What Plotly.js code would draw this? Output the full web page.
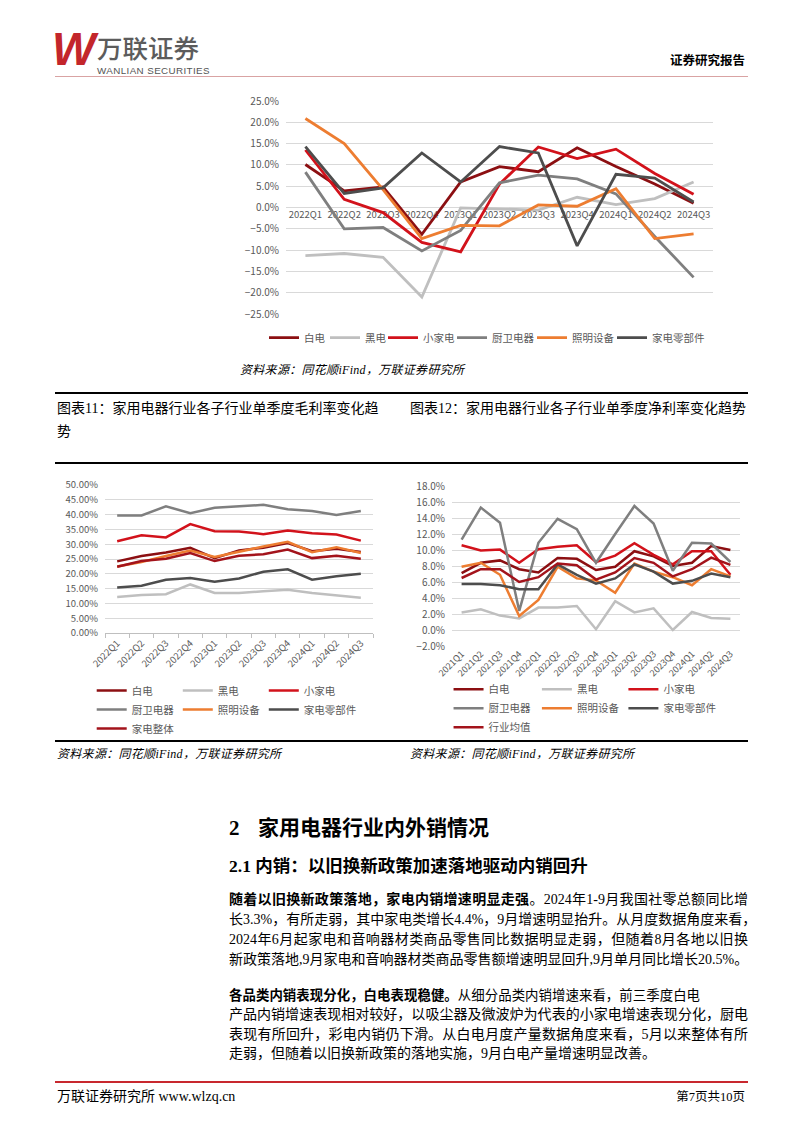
<!DOCTYPE html>
<html><head><meta charset="utf-8">
<script src="https://cdn.plot.ly/plotly-3.0.1.min.js"></script>
<style>
html,body{margin:0;padding:0;}
body{width:802px;height:1133px;position:relative;background:#fff;overflow:hidden;font-family:"Liberation Serif","Noto Sans CJK SC",serif;color:#000;}
.a{position:absolute;}
.rule{position:absolute;left:55px;width:693px;background:#000;}
.src{position:absolute;font-size:12px;font-style:italic;color:#000;font-family:"Liberation Serif","Noto Sans CJK SC",serif;white-space:nowrap;letter-spacing:0.3px;}
.ttl{position:absolute;font-size:14px;line-height:23px;font-family:"Liberation Serif","Noto Sans CJK SC",serif;white-space:nowrap;}
.bl{position:absolute;left:229px;width:519px;font-size:14px;line-height:19px;white-space:nowrap;text-align:justify;text-align-last:justify;}
.bl b{font-weight:700;}
</style></head><body>

<!-- header -->
<div class="a" style="left:52px;top:24px;font-family:'Liberation Sans';font-weight:700;font-style:italic;font-size:46px;line-height:50px;color:#C3262B;letter-spacing:-3px;">W</div>
<div class="a" style="left:97px;top:34px;font-family:'Noto Sans CJK SC';font-weight:500;font-size:25.5px;line-height:25px;color:#5c5c5c;">万联证券</div>
<div class="a" style="left:97px;top:66px;font-family:'Liberation Sans';font-size:9.8px;line-height:9px;color:#555;letter-spacing:0.4px;">WANLIAN SECURITIES</div>
<div class="a" style="right:57px;top:51px;font-family:'Noto Sans CJK SC';font-weight:700;font-size:12.5px;line-height:18px;">证券研究报告</div>
<div class="a" style="left:55px;top:76px;width:693px;height:1px;background:#d9a3a3;"></div>

<!-- chart 1 -->
<div id="c1" class="a" style="left:220px;top:85px;width:510px;height:275px;"></div>
<div class="src" style="left:240px;top:360px;">资料来源：同花顺iFind，万联证券研究所</div>

<!-- titles -->
<div class="rule" style="top:392px;height:2px;"></div>
<div class="ttl" style="left:57px;top:397px;">图表11：家用电器行业各子行业单季度毛利率变化趋<br>势</div>
<div class="ttl" style="left:410px;top:397px;">图表12：家用电器行业各子行业单季度净利率变化趋势</div>
<div class="rule" style="top:462px;height:2px;"></div>

<!-- charts 2 and 3 -->
<div id="c2" class="a" style="left:45px;top:470px;width:335px;height:268px;"></div>
<div id="c3" class="a" style="left:400px;top:470px;width:350px;height:268px;"></div>
<div class="rule" style="top:740px;height:2px;"></div>
<div class="src" style="left:57px;top:744px;">资料来源：同花顺iFind，万联证券研究所</div>
<div class="src" style="left:410px;top:744px;">资料来源：同花顺iFind，万联证券研究所</div>

<!-- body text -->
<div class="a" style="left:229px;top:815px;font-size:21px;line-height:26px;font-weight:700;">2</div>
<div class="a" style="left:258px;top:815px;font-size:21px;line-height:26px;font-weight:700;">家用电器行业内外销情况</div>
<div class="a" style="left:229px;top:854px;font-size:17.5px;line-height:24px;font-weight:700;">2.1 内销：以旧换新政策加速落地驱动内销回升</div>

<div class="bl" style="top:889.5px;"><b>随着以旧换新政策落地，家电内销增速明显走强</b>。2024年1-9月我国社零总额同比增</div>
<div class="bl" style="top:909.5px;">长3.3%，有所走弱，其中家电类增长4.4%，9月增速明显抬升。从月度数据角度来看，</div>
<div class="bl" style="top:929.5px;">2024年6月起家电和音响器材类商品零售同比数据明显走弱，但随着8月各地以旧换</div>
<div class="bl" style="top:949.5px;">新政策落地,9月家电和音响器材类商品零售额增速明显回升,9月单月同比增长20.5%。</div>

<div class="bl" style="top:985.5px;width:471px;font-size:13.4px;"><b>各品类内销表现分化，白电表现稳健。</b>从细分品类内销增速来看，前三季度白电</div>
<div class="bl" style="top:1005px;">产品内销增速表现相对较好，以吸尘器及微波炉为代表的小家电增速表现分化，厨电</div>
<div class="bl" style="top:1024.5px;">表现有所回升，彩电内销仍下滑。从白电月度产量数据角度来看，5月以来整体有所</div>
<div class="bl" style="top:1044px;text-align:left;text-align-last:left;">走弱，但随着以旧换新政策的落地实施，9月白电产量增速明显改善。</div>

<!-- footer -->
<div class="a" style="left:55px;top:1081px;width:693px;height:2px;background:#c8282e;"></div>
<div class="a" style="left:57px;top:1087px;font-size:14px;line-height:20px;">万联证券研究所 www.wlzq.cn</div>
<div class="a" style="right:57px;top:1088px;font-size:12.5px;line-height:18px;">第7页共10页</div>

<script>
// ---------- data: chart 1 (single quarter YoY) ----------
const topQuarters = ['2022Q1','2022Q2','2022Q3','2022Q4','2023Q1','2023Q2','2023Q3','2023Q4','2024Q1','2024Q2','2024Q3'];
const topBaidian     = [10.1, 3.9, 4.8, -6.3, 6.0, 9.6, 8.4, 14.0, 9.6, 5.5, 1.0];
const topHeidian     = [-11.3, -10.8, -11.7, -21.0, -0.1, -0.3, -0.6, 2.4, 0.7, 2.1, 6.0];
const topXiaojiadian = [13.5, 1.9, -1.2, -8.2, -10.4, 5.5, 14.2, 11.5, 13.7, 8.0, 3.1];
const topChuwei      = [8.3, -5.0, -4.7, -10.2, -5.4, 5.8, 7.6, 6.7, 3.2, -6.8, -16.4];
const topZhaoming    = [20.9, 15.0, 4.2, -7.3, -4.2, -4.3, 0.6, 0.3, 4.4, -7.3, -6.2];
const topLingbujian  = [14.3, 3.3, 4.6, 12.8, 6.0, 14.3, 12.8, -9.0, 7.8, 6.9, 1.3];

// ---------- data: chart 2 (gross margin) ----------
const gmQuarters = ['2022Q1','2022Q2','2022Q3','2022Q4','2023Q1','2023Q2','2023Q3','2023Q4','2024Q1','2024Q2','2024Q3'];
const gmBaidian     = [24.2, 26.0, 27.2, 28.8, 25.3, 27.9, 28.8, 30.4, 27.6, 28.5, 27.4];
const gmHeidian     = [12.2, 12.8, 13.1, 16.4, 13.5, 13.5, 14.1, 14.6, 13.5, 12.8, 11.9];
const gmXiaojiadian = [31.0, 33.0, 32.3, 36.8, 34.4, 34.3, 33.4, 34.6, 33.7, 33.3, 31.2];
const gmChuwei      = [39.7, 39.7, 42.8, 40.5, 42.3, 42.9, 43.3, 41.8, 41.2, 39.9, 41.2];
const gmZhaoming    = [22.5, 24.0, 26.0, 27.9, 25.7, 27.5, 29.2, 30.8, 27.3, 29.0, 27.0];
const gmLingbujian  = [15.4, 16.0, 18.0, 18.6, 17.3, 18.4, 20.7, 21.5, 18.0, 19.2, 20.0];
const gmZhengti     = [22.4, 24.3, 25.1, 27.0, 24.3, 26.1, 26.6, 28.2, 25.3, 26.1, 25.1];

// ---------- data: chart 3 (net margin) ----------
const npQuarters = ['2021Q1','2021Q2','2021Q3','2021Q4','2022Q1','2022Q2','2022Q3','2022Q4','2023Q1','2023Q2','2023Q3','2023Q4','2024Q1','2024Q2','2024Q3'];
const npBaidian     = [7.1, 8.4, 8.7, 7.6, 7.2, 9.0, 8.9, 7.5, 7.9, 9.85, 9.2, 8.0, 8.4, 10.5, 10.0];
const npHeidian     = [2.2, 2.6, 1.8, 1.45, 2.8, 2.8, 3.0, 0.1, 3.6, 2.2, 2.7, 0.0, 2.25, 1.5, 1.4];
const npXiaojiadian = [10.6, 9.95, 10.05, 8.4, 10.1, 10.4, 10.6, 8.5, 9.3, 10.85, 9.4, 8.2, 9.85, 9.85, 6.9];
const npChuwei      = [11.3, 15.3, 13.4, 2.4, 10.9, 13.9, 12.6, 8.4, 12.0, 15.5, 13.3, 7.4, 10.9, 10.8, 8.5];
const npZhaoming    = [7.9, 8.4, 6.9, 1.75, 3.75, 7.9, 6.45, 6.2, 4.65, 8.3, 7.3, 6.6, 5.6, 7.6, 6.7];
const npLingbujian  = [5.75, 5.75, 5.6, 5.1, 5.1, 8.2, 6.9, 5.8, 6.45, 8.2, 7.3, 5.8, 6.15, 7.05, 6.6];
const npJunzhi      = [6.5, 7.6, 7.6, 6.0, 6.6, 8.3, 8.1, 6.3, 7.2, 9.0, 8.4, 6.7, 7.6, 9.05, 8.15];

const seriesNames = ['白电','黑电','小家电','厨卫电器','照明设备','家电零部件'];

// ---------- styles ----------
const FONT = 'Noto Sans CJK SC, Noto Sans, sans-serif';
const TICK = '#595959';
const GRID = '#D9D9D9';
const COL = {
  baidian:'#8C0F12', heidian:'#BFBFBF', xiaojiadian:'#D2121B',
  chuwei:'#7F7F7F', zhaoming:'#ED7D31', lingbujian:'#4D4D4D', total:'#A3131B'
};
const colorList = [COL.baidian, COL.heidian, COL.xiaojiadian, COL.chuwei, COL.zhaoming, COL.lingbujian];

function mk(name, x, y, color, width, extra){
  return Object.assign({type:'scatter', mode:'lines', name:name, x:x, y:y,
    line:{color:color, width:width}, hoverinfo:'skip'}, extra || {});
}
const cfg = {staticPlot:true, displayModeBar:false};
const legFont = {family:FONT, size:10.5, color:TICK};
function vLegend(x, y){
  return {orientation:'v', x:x, xanchor:'left', y:y, yanchor:'top', bgcolor:'rgba(0,0,0,0)',
    font:legFont, itemwidth:30, traceorder:'normal', tracegroupgap:0};
}
const legendIds = ['legend','legend2','legend3'];

// ---------- chart 1 ----------
const topData = [topBaidian, topHeidian, topXiaojiadian, topChuwei, topZhaoming, topLingbujian];
const topLegendW = [16, 13, 24, 35, 35, 55];
const t1 = topData.map((d,i)=>mk(seriesNames[i], topQuarters, d, colorList[i], 2.8, {legendwidth: topLegendW[i]}));
Plotly.newPlot('c1', t1, {
  width:510, height:275,
  margin:{l:66, r:17, t:15.7, b:46.4, autoexpand:false},
  paper_bgcolor:'#fff', plot_bgcolor:'#fff',
  font:{family:FONT, color:TICK},
  showlegend:true,
  legend:{orientation:'h', x:-0.0515, xanchor:'left', y:-0.111, yanchor:'middle',
    bgcolor:'rgba(0,0,0,0)', font:legFont, itemwidth:30, traceorder:'normal'},
  xaxis:{type:'category', range:[-0.5,10.5], anchor:'free', position:0.5, showgrid:false, zeroline:false,
    showline:false, ticks:'', tickfont:{family:FONT, size:9.5, color:TICK}, layer:'below traces', fixedrange:true},
  yaxis:{range:[-25,25], dtick:5, tick0:0, tickformat:'.1f', ticksuffix:'%', showgrid:true, gridcolor:GRID, gridwidth:1,
    zeroline:false, showline:false, ticks:'', ticklabelstandoff:6, tickfont:{family:FONT, size:10, color:TICK}, fixedrange:true}
}, cfg);

// ---------- chart 2 ----------
const gmData = [gmBaidian, gmHeidian, gmXiaojiadian, gmChuwei, gmZhaoming, gmLingbujian, gmZhengti];
const gmNames = seriesNames.concat(['家电整体']);
const gmColors = colorList.concat([COL.total]);
const t2 = gmData.map((d,i)=>mk(gmNames[i], gmQuarters, d, gmColors[i], 2.5, {legend: legendIds[i % 3]}));
Plotly.newPlot('c2', t2, {
  width:335, height:268,
  margin:{l:60, r:7, t:15, b:104.7, autoexpand:false},
  paper_bgcolor:'#fff', plot_bgcolor:'#fff',
  font:{family:FONT, color:TICK},
  showlegend:true,
  legend: vLegend(-0.0496, -0.291),
  legend2: vLegend(0.2716, -0.291),
  legend3: vLegend(0.5925, -0.291),
  xaxis:{type:'category', range:[-0.5,10.5], tickangle:-45, showgrid:false, zeroline:false,
    showline:true, linecolor:'#BFBFBF', linewidth:1, ticks:'outside', tickson:'boundaries', ticklen:4, tickcolor:'#BFBFBF',
    tickfont:{family:FONT, size:9.5, color:TICK}, fixedrange:true},
  yaxis:{range:[0,50], dtick:5, tick0:0, tickformat:'.2f', ticksuffix:'%', showgrid:true, gridcolor:GRID, gridwidth:1,
    zeroline:false, showline:false, ticks:'', ticklabelstandoff:6, tickfont:{family:FONT, size:9.5, color:TICK}, fixedrange:true}
}, cfg);

// ---------- chart 3 ----------
const npData = [npBaidian, npHeidian, npXiaojiadian, npChuwei, npZhaoming, npLingbujian, npJunzhi];
const npNames = seriesNames.concat(['行业均值']);
const t3 = npData.map((d,i)=>mk(npNames[i], npQuarters, d, gmColors[i], 2.5, {legend: legendIds[i % 3]}));
Plotly.newPlot('c3', t3, {
  width:350, height:268,
  margin:{l:51.7, r:10, t:15.7, b:92.3, autoexpand:false},
  paper_bgcolor:'#fff', plot_bgcolor:'#fff',
  font:{family:FONT, color:TICK},
  showlegend:true,
  legend: vLegend(-0.012, -0.179),
  legend2: vLegend(0.2948, -0.179),
  legend3: vLegend(0.5952, -0.179),
  xaxis:{type:'category', range:[-0.5,14.5], tickangle:-45, showgrid:false, zeroline:false,
    showline:false, ticks:'', tickfont:{family:FONT, size:9, color:TICK}, fixedrange:true},
  yaxis:{range:[-2,18], dtick:2, tick0:0, tickformat:'.1f', ticksuffix:'%', showgrid:true, gridcolor:GRID, gridwidth:1,
    zeroline:false, showline:false, ticks:'', ticklabelstandoff:6, tickfont:{family:FONT, size:10, color:TICK}, fixedrange:true}
}, cfg);
</script>
</body></html>
